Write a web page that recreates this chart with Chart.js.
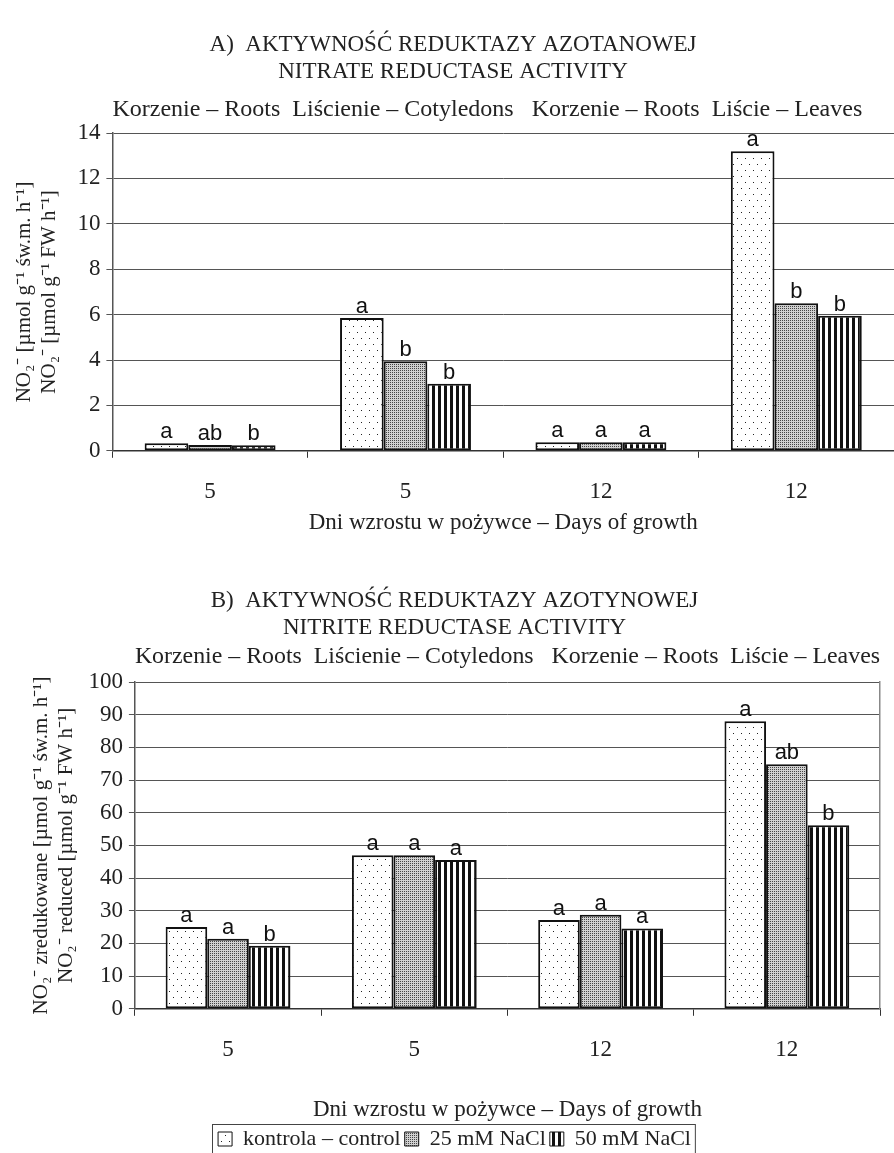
<!DOCTYPE html>
<html>
<head>
<meta charset="utf-8">
<script src="https://cdn.jsdelivr.net/npm/chart.js@4.4.1/dist/chart.umd.min.js"></script>
<style>
  body { margin: 0; background: #fff; overflow: hidden; }
  canvas { display: block; }
</style>
</head>
<body>
<canvas id="wykresA" width="894" height="545"></canvas>
<canvas id="wykresB" width="894" height="615"></canvas>
<script>
// dni wzrostu (kategorie)
const dni = ['5', '5', '12', '12'];
const organy = 'Korzenie – Roots  Liścienie – Cotyledons   Korzenie – Roots  Liście – Leaves';
const serie = ['kontrola – control', '25 mM NaCl', '50 mM NaCl'];

// A) reduktaza azotanowa
const azotanKontrola = [0.33, 5.85, 0.38, 13.2];
const azotan25 = [0.26, 3.95, 0.38, 6.5];
const azotan50 = [0.25, 2.95, 0.38, 5.95];
const azotanLitery = [['a', 'a', 'a', 'a'], ['ab', 'b', 'a', 'b'], ['b', 'b', 'a', 'b']];

// B) reduktaza azotynowa
const azotynKontrola = [25, 47, 27.2, 88];
const azotyn25 = [21.4, 47, 28.8, 74.8];
const azotyn50 = [19.3, 45.5, 24.6, 56.2];
const azotynLitery = [['a', 'a', 'a', 'a'], ['a', 'a', 'a', 'ab'], ['b', 'a', 'a', 'b']];

Chart.defaults.font.family = '"Liberation Serif", "Times New Roman", serif';
Chart.defaults.color = '#222';

function wzorKropki() {
  const c = document.createElement('canvas');
  c.width = 8; c.height = 12;
  const g = c.getContext('2d');
  g.fillStyle = '#fff'; g.fillRect(0, 0, 8, 12);
  g.fillStyle = '#222';
  g.fillRect(1, 2, 1, 1);
  g.fillRect(5, 8, 1, 1);
  return g.createPattern(c, 'repeat');
}

function wzorGesty() {
  const c = document.createElement('canvas');
  c.width = 2; c.height = 2;
  const g = c.getContext('2d');
  g.fillStyle = '#d0d0d0'; g.fillRect(0, 0, 2, 2);
  g.fillStyle = '#444';
  g.fillRect(0, 0, 1, 1);
  return g.createPattern(c, 'repeat');
}

function wzorPaski() {
  const c = document.createElement('canvas');
  c.width = 6; c.height = 6;
  const g = c.getContext('2d');
  g.fillStyle = '#fff'; g.fillRect(0, 0, 6, 6);
  g.fillStyle = '#111';
  g.fillRect(0, 0, 3, 6);
  return g.createPattern(c, 'repeat');
}

const wzory = [wzorKropki(), wzorGesty(), wzorPaski()];

// litery nad słupkami
const literyPlugin = {
  id: 'litery',
  afterDatasetsDraw(chart) {
    const ctx = chart.ctx;
    ctx.save();
    ctx.font = '22px "Liberation Sans", Arial, sans-serif';
    ctx.fillStyle = '#111';
    ctx.textAlign = 'center';
    ctx.textBaseline = 'bottom';
    chart.data.datasets.forEach((ds, i) => {
      chart.getDatasetMeta(i).data.forEach((bar, j) => {
        ctx.fillText(ds.litery[j], bar.x, bar.y);
      });
    });
    ctx.restore();
  }
};

// ramka wokół legendy
const ramkaLegendy = {
  id: 'ramkaLegendy',
  afterDraw(chart) {
    const l = chart.legend;
    if (!l || !l.options.display || !l.legendHitBoxes.length) return;
    const boxy = l.legendHitBoxes;
    const lewo = Math.min(...boxy.map(b => b.left)) - 6;
    const prawo = Math.max(...boxy.map(b => b.left + b.width)) + 4;
    const gora = boxy[0].top + boxy[0].height / 2 - 15;
    const ctx = chart.ctx;
    ctx.save();
    ctx.strokeStyle = '#444';
    ctx.lineWidth = 1;
    ctx.strokeRect(Math.round(lewo) + 0.5, Math.round(gora) + 0.5, prawo - lewo, 60);
    ctx.restore();
  }
};

function zestawy(k, s25, s50, litery) {
  return [k, s25, s50].map((d, i) => ({
    label: serie[i],
    data: d,
    litery: litery[i],
    backgroundColor: wzory[i],
    borderColor: '#111',
    borderWidth: 2,
    borderSkipped: false,
    categoryPercentage: 0.67,
    barPercentage: 1
  }));
}

function osX(tytul, odstep) {
  return {
    grid: { drawOnChartArea: false, tickLength: 7, color: '#333', offset: true },
    border: { color: '#333', width: 1.5 },
    ticks: { font: { size: 23 }, padding: 20, color: '#222' },
    title: { display: true, text: tytul, font: { size: 23 }, padding: { top: odstep, bottom: 0 }, color: '#222' }
  };
}

// A
const wykresA = new Chart(document.getElementById('wykresA'), {
  type: 'bar',
  data: { labels: dni, datasets: zestawy(azotanKontrola, azotan25, azotan50, azotanLitery) },
  options: {
    responsive: false,
    animation: false,
    devicePixelRatio: 1,
    layout: { padding: { left: 12, right: 0, top: 0, bottom: 8 } },
    plugins: {
      legend: { display: false },
      tooltip: { enabled: false },
      title: {
        display: true,
        text: ['A)  AKTYWNOŚĆ REDUKTAZY AZOTANOWEJ', 'NITRATE REDUCTASE ACTIVITY'],
        font: { size: 23, weight: 'normal' },
        lineHeight: 1.18,
        color: '#222',
        padding: { top: 31, bottom: 9 }
      },
      subtitle: {
        display: true,
        fullSize: false,
        align: 'start',
        text: organy,
        font: { size: 24 },
        lineHeight: 1.13,
        color: '#222',
        padding: { top: 0, bottom: 9 }
      }
    },
    scales: {
      x: osX('Dni wzrostu w pożywce – Days of growth', -16),
      y: {
        min: 0, max: 14,
        ticks: { stepSize: 2, autoSkip: false, font: { size: 23 }, color: '#222', padding: 6 },
        grid: { color: '#555', tickLength: 6 },
        border: { color: '#555', width: 1.5 },
        title: {
          display: true,
          text: ['NO₂⁻ [µmol g⁻¹ św.m. h⁻¹]', 'NO₂⁻ [µmol g⁻¹ FW h⁻¹]'],
          font: { size: 21 },
          lineHeight: 1.42,
          color: '#222',
          padding: { top: 0, bottom: 9 }
        }
      }
    }
  },
  plugins: [literyPlugin]
});

// B
const wykresB = new Chart(document.getElementById('wykresB'), {
  type: 'bar',
  data: { labels: dni, datasets: zestawy(azotynKontrola, azotyn25, azotyn50, azotynLitery) },
  options: {
    responsive: false,
    animation: false,
    devicePixelRatio: 1,
    layout: { padding: { left: 29, right: 14, top: 0, bottom: 0 } },
    plugins: {
      tooltip: { enabled: false },
      legend: {
        display: true,
        position: 'bottom',
        labels: {
          boxWidth: 14,
          boxHeight: 14,
          padding: 4,
          font: { size: 22 },
          color: '#222',
          generateLabels(chart) {
            return Chart.defaults.plugins.legend.labels.generateLabels(chart).map(l => {
              l.lineWidth = 1;
              return l;
            });
          }
        }
      },
      title: {
        display: true,
        text: ['B)  AKTYWNOŚĆ REDUKTAZY AZOTYNOWEJ', 'NITRITE REDUCTASE ACTIVITY'],
        font: { size: 23, weight: 'normal' },
        lineHeight: 1.18,
        color: '#222',
        padding: { top: 42, bottom: 0 }
      },
      subtitle: {
        display: true,
        fullSize: false,
        align: 'start',
        text: organy,
        font: { size: 24 },
        lineHeight: 1.13,
        color: '#222',
        padding: { top: 0, bottom: 11 }
      }
    },
    scales: {
      x: osX('Dni wzrostu w pożywce – Days of growth', 13),
      y: {
        min: 0, max: 100,
        ticks: { stepSize: 10, autoSkip: false, font: { size: 23 }, color: '#222', padding: 6 },
        grid: { color: '#555', tickLength: 6 },
        border: { color: '#555', width: 1.5 },
        title: {
          display: true,
          text: ['NO₂⁻ zredukowane [µmol g⁻¹ św.m. h⁻¹]', 'NO₂⁻ reduced [µmol g⁻¹ FW h⁻¹]'],
          font: { size: 21 },
          lineHeight: 1.29,
          color: '#222',
          padding: { top: 0, bottom: 3 }
        }
      },
      y2: {
        position: 'right',
        min: 0, max: 100,
        ticks: { display: false },
        grid: { drawOnChartArea: false, drawTicks: false },
        border: { color: '#888', width: 1.5 }
      }
    }
  },
  plugins: [literyPlugin, ramkaLegendy]
});
</script>
</body>
</html>
